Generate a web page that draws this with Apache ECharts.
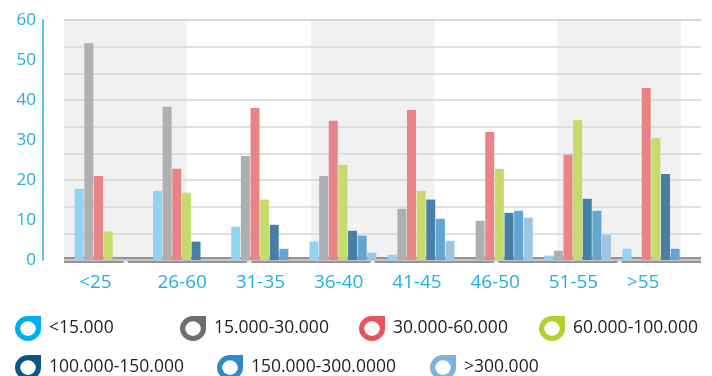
<!DOCTYPE html>
<html>
<head>
<meta charset="utf-8">
<script src="https://cdn.jsdelivr.net/npm/echarts@6/dist/echarts.min.js"></script>
<style>
html,body{margin:0;padding:0;background:#fff;}
#chart{width:712px;height:376px;}
</style>
</head>
<body>
<div id="chart"></div>
<script>
const categories = ['<25', '26-60', '31-35', '36-40', '41-45', '46-50', '51-55', '>55'];
const seriesNames = ['<15.000', '15.000-30.000', '30.000-60.000', '60.000-100.000', '100.000-150.000', '150.000-300.0000', '>300.000'];
const under15 = [17.8, 17.3, 8.3, 4.6, 1.3, 0, 1.1, 2.8];
const from15to30 = [54.2, 38.3, 26.0, 21.0, 12.8, 9.8, 2.3, 0];
const from30to60 = [21.0, 22.8, 38.0, 34.8, 37.5, 32.0, 26.3, 43.0];
const from60to100 = [7.1, 16.8, 15.1, 23.8, 17.3, 22.8, 35.0, 30.5];
const from100to150 = [0, 4.6, 8.8, 7.3, 15.1, 11.8, 15.3, 21.5];
const from150to300 = [0, 0, 2.8, 6.1, 10.3, 12.3, 12.3, 2.8];
const over300 = [0, 0, 0.2, 1.8, 4.8, 10.6, 6.3, 0];
const yTickLabels = [0, 10, 20, 30, 40, 50, 60];
const bandDots = [0.5, 1.5, 2.5, 3.5, 4.5];

const seriesData = [under15, from15to30, from30to60, from60to100, from100to150, from150to300, over300];
const barColors = ['#8fd5f2', '#aeafb1', '#e88386', '#c5db6c', '#487fa5', '#61a5d2', '#9fc5e2'];
const iconColors = ['#00aeef', '#6d6e71', '#e8545a', '#b5cf2b', '#0b5686', '#2f8ac9', '#7ab3dc'];
const legendPos = [[15, 316], [180, 316], [359, 316], [539, 316], [15, 355], [217, 355], [430, 355]];

const cyan = '#1fb0e6';
const iconPath = 'path://M13,0 L26,0 L26,12.5 A13,12.5 0 0 1 13,25 A13,12.5 0 0 1 0,12.5 A13,12.5 0 0 1 13,0 Z M13,5.3 A7.8,7.3 0 0 0 5.2,12.6 A7.8,7.3 0 0 0 13,19.9 A7.8,7.3 0 0 0 20.8,12.6 A7.8,7.3 0 0 0 13,5.3 Z';
const font = 'Open Sans';

const chart = echarts.init(document.getElementById('chart'), null, {renderer: 'canvas'});

const legends = seriesNames.map((name, i) => ({
  left: legendPos[i][0],
  top: legendPos[i][1],
  padding: 0,
  itemGap: 0,
  itemWidth: 26,
  itemHeight: 25,
  icon: iconPath,
  selectedMode: false,
  data: [{name: name, itemStyle: {color: iconColors[i], borderWidth: 0}}],
  textStyle: {fontFamily: font, fontSize: 17.5, color: '#231f20', padding: [0, 0, 0, 3]}
}));

const bars = seriesNames.map((name, i) => ({
  name: name,
  type: 'bar',
  xAxisIndex: 0,
  yAxisIndex: 2,
  barWidth: 9,
  barGap: '7%',
  itemStyle: {color: barColors[i]},
  data: seriesData[i],
  z: 3
}));

chart.setOption({
  animation: false,
  backgroundColor: '#ffffff',
  legend: legends,
  grid: [
    {left: 64, right: 11, top: 20, bottom: 116},
    {left: 69, right: 17, top: 20, bottom: 116}
  ],
  xAxis: [
    {
      type: 'category',
      gridIndex: 1,
      data: categories,
      axisLine: {show: false},
      axisTick: {show: false},
      splitLine: {show: false},
      axisLabel: {
        margin: 13,
        formatter: v => '{a|' + v + '}',
        rich: {a: {width: 58, align: 'left', fontFamily: font, fontSize: 19, color: cyan}}
      }
    },
    {
      type: 'value',
      gridIndex: 0,
      position: 'bottom',
      min: 0,
      max: 5.16,
      interval: 1,
      offset: 3,
      z: 0,
      axisLabel: {show: false},
      axisTick: {show: false},
      splitLine: {show: false},
      axisLine: {show: true, lineStyle: {color: '#939498', width: 6, cap: 'butt'}},
      splitArea: {show: true, areaStyle: {color: ['#f1f1f1', '#ffffff']}}
    }
  ],
  yAxis: [
    {
      type: 'value',
      gridIndex: 0,
      position: 'left',
      min: 0,
      max: 60,
      interval: 60 / 9,
      z: 1,
      axisLabel: {show: false},
      axisLine: {show: false},
      axisTick: {show: false},
      splitLine: {show: true, lineStyle: {color: '#d6d6d6', width: 1.5}}
    },
    {
      type: 'value',
      gridIndex: 0,
      position: 'left',
      min: yTickLabels[0],
      max: yTickLabels[yTickLabels.length - 1],
      interval: yTickLabels[1] - yTickLabels[0],
      offset: 21,
      z: 2,
      axisLine: {show: true, lineStyle: {color: cyan, width: 1.5}},
      axisTick: {show: false},
      splitLine: {show: false},
      axisLabel: {margin: 7, fontFamily: font, fontSize: 17, color: cyan}
    },
    {
      type: 'value',
      gridIndex: 1,
      position: 'left',
      min: 0,
      max: 60,
      show: false
    }
  ],
  series: bars.concat([{
    type: 'scatter',
    xAxisIndex: 1,
    yAxisIndex: 0,
    symbol: 'circle',
    symbolSize: 5,
    symbolOffset: [0, 3],
    itemStyle: {color: '#ffffff'},
    data: bandDots.map(x => [x, 0]),
    z: 10,
    silent: true
  }])
});
</script>
</body>
</html>
